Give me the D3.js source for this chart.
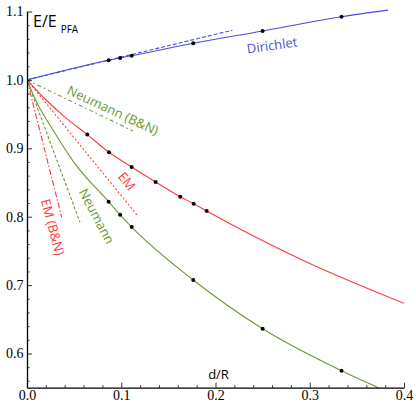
<!DOCTYPE html>
<html><head><meta charset="utf-8">
<script src="https://cdn.jsdelivr.net/npm/d3@7"></script>
<style>
html,body{margin:0;padding:0;background:#fff;}
svg{display:block;}
.tick text{font-family:"Liberation Serif","Times New Roman",serif;font-size:14px;fill:#000;}
</style></head>
<body>
<svg id="chart" width="416" height="406"></svg>
<script>
// ---- data ----
const xTicks = [0, 0.1, 0.2, 0.3, 0.4];
const yTicks = [0.6, 0.7, 0.8, 0.9, 1.0, 1.1];

const dirichletX = [0, 0.0866, 0.0988, 0.1111, 0.1764, 0.25, 0.3337, 0.383];
const dirichletY = [1, 1.0287, 1.0321, 1.0354, 1.0535, 1.0715, 1.0924, 1.102];
const dirichletPtsX = [0.0866, 0.0988, 0.1111, 0.1764, 0.25, 0.3337];
const dirichletPtsY = [1.0287, 1.0321, 1.0354, 1.0535, 1.0715, 1.0924];

const emX = [0, 0.02, 0.04, 0.064, 0.087, 0.111, 0.1365, 0.1626, 0.1768, 0.1906, 0.292, 0.4];
const emY = [1, 0.971, 0.946, 0.92, 0.8942, 0.8727, 0.8507, 0.8292, 0.819, 0.8083, 0.7367, 0.6734];
const emPtsX = [0.064, 0.087, 0.111, 0.1365, 0.1626, 0.1768, 0.1906];
const emPtsY = [0.92, 0.8942, 0.8727, 0.8507, 0.8292, 0.819, 0.8083];

const neumannX = [0, 0.01, 0.0279, 0.05, 0.0866, 0.0988, 0.1111, 0.1764, 0.25, 0.3337, 0.3726, 0.39];
const neumannY = [1, 0.968, 0.926, 0.879, 0.8219, 0.8027, 0.7849, 0.7075, 0.6363, 0.5749, 0.55, 0.539];
const neumannPtsX = [0.0866, 0.0988, 0.1111, 0.1764, 0.25, 0.3337];
const neumannPtsY = [0.8219, 0.8027, 0.7849, 0.7075, 0.6363, 0.5749];

const dirichletApproxX = [0, 0.218];
const dirichletApproxY = [1, 1.0727];
const neumannBNX = [0, 0.1124];
const neumannBNY = [1, 0.9253];
const neumannLeadX = [0, 0.0562];
const neumannLeadY = [1, 0.7918];
const emApproxX = [0, 0.117];
const emApproxY = [1, 0.802];
const emBNX = [0, 0.0368];
const emBNY = [1, 0.799];

// ---- drawing ----
const svg = d3.select("#chart");
const x = d3.scaleLinear().domain([0, 0.4]).range([27, 404]);
const y = d3.scaleLinear().domain([0.55, 1.1]).range([387.7, 11.5]);

const BLUE = "#4c4ce0", RED = "#ff3b3b", GREEN = "#6a9a30";

svg.append("defs").append("clipPath").attr("id", "clip")
  .append("rect").attr("x", x(0)).attr("y", 8).attr("width", x(0.4) - x(0)).attr("height", y(0.55) - 8);

const plot = svg.append("g").attr("clip-path", "url(#clip)");
const zip = (xs, ys) => xs.map((v, i) => [v, ys[i]]);

const curveLine = d3.line().x(d => x(d[0])).y(d => y(d[1])).curve(d3.curveMonotoneX);
const straight = d3.line().x(d => x(d[0])).y(d => y(d[1]));

function path(data, gen, color, dash, w) {
  plot.append("path").attr("d", gen(data)).attr("fill", "none")
    .attr("stroke", color).attr("stroke-width", w || 1.1)
    .attr("stroke-dasharray", dash || null);
}

path(zip(dirichletApproxX, dirichletApproxY), straight, BLUE, "4,2");
path(zip(neumannBNX, neumannBNY), straight, GREEN, "4,3,1.5,3");
path(zip(neumannLeadX, neumannLeadY), straight, GREEN, "3,2");
path(zip(emApproxX, emApproxY), straight, RED, "2,2");
path(zip(emBNX, emBNY), straight, RED, "6,2,1.5,2");

path(zip(dirichletX, dirichletY), curveLine, BLUE);
path(zip(emX, emY), curveLine, RED);
path(zip(neumannX, neumannY), curveLine, GREEN);

const pts = [].concat(zip(dirichletPtsX, dirichletPtsY), zip(emPtsX, emPtsY), zip(neumannPtsX, neumannPtsY));
plot.selectAll("circle.pt").data(pts).enter().append("circle")
  .attr("cx", d => x(d[0])).attr("cy", d => y(d[1])).attr("r", 2).attr("fill", "#000");

// axes
const minorX = d3.range(0, 0.4001, 0.02).filter(v => Math.abs(v * 10 - Math.round(v * 10)) > 1e-6);
const minorY = d3.range(0.56, 1.1001, 0.02).filter(v => Math.abs(v * 10 - Math.round(v * 10)) > 1e-6);

const gx = svg.append("g").attr("transform", `translate(0,${y(0.55)})`);
gx.call(d3.axisBottom(x).tickValues(xTicks).tickFormat(d3.format(".1f")).tickSizeInner(-5).tickSizeOuter(0).tickPadding(2.5));
gx.append("g").call(d3.axisBottom(x).tickValues(minorX).tickFormat("").tickSizeInner(-2.5).tickSizeOuter(0))
  .select(".domain").remove();

const gy = svg.append("g").attr("transform", `translate(${x(0)},0)`);
gy.call(d3.axisLeft(y).tickValues(yTicks).tickFormat(d3.format(".1f")).tickSizeInner(-5).tickSizeOuter(0).tickPadding(3.5));
gy.append("g").call(d3.axisLeft(y).tickValues(minorY).tickFormat("").tickSizeInner(-2.5).tickSizeOuter(0))
  .select(".domain").remove();

svg.selectAll(".domain").attr("stroke", "#000").attr("stroke-width", 1.3);
svg.selectAll(".tick line").attr("stroke", "#000").attr("stroke-width", 0.8);

// labels
const sans = "'Open Sans','DejaVu Sans',sans-serif";
function label(txt, cx, cy, ang, color, size) {
  svg.append("text").attr("transform", `translate(${cx},${cy}) rotate(${ang})`)
    .attr("text-anchor", "middle").attr("dominant-baseline", "central")
    .attr("font-family", sans).attr("font-size", size || 13).attr("fill", color).text(txt);
}
label("Dirichlet", 272, 45, -8, BLUE);
label("Neumann (B&N)", 113, 110, 25, GREEN);
label("EM", 127, 181, 52, RED);
label("Neumann", 97, 216, 62, GREEN);
label("EM (B&N)", 53, 227, 75, RED);

svg.append("text").attr("x", 218.5).attr("y", 379).attr("text-anchor", "middle")
  .attr("font-family", sans).attr("font-size", 13).attr("fill", "#000").text("d/R");

const t = svg.append("text").attr("x", 33).attr("y", 27).attr("font-family", sans).attr("fill", "#000");
t.append("tspan").attr("font-size", 16).text("E/E");
t.append("tspan").attr("font-size", 10).attr("dx", 4).attr("dy", 6).text("PFA");
</script>
</body></html>
